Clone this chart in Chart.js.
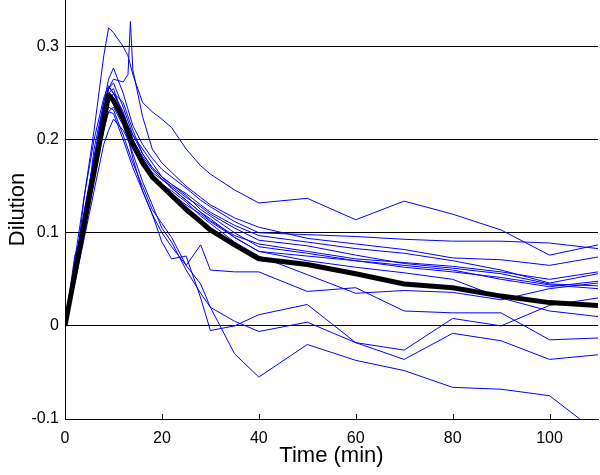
<!DOCTYPE html>
<html>
<head>
<meta charset="utf-8">
<script src="https://cdn.jsdelivr.net/npm/chart.js@4.4.1/dist/chart.umd.min.js"></script>
<style>
  html, body { margin: 0; background: #fff; }
  canvas { display: block; }
</style>
</head>
<body>
<canvas id="chart" width="600" height="475"></canvas>
<script>
const _ = null;

// sample times (min), shared by every curve; null = no sample at that time
const times = [0, 2, 4, 6, 8, 9, 10, 12, 12.5, 13, 13.5, 14, 16, 18, 20, 22, 25, 28, 30, 35, 40, 50, 60, 70, 80, 90, 100, 110];

const xTicks = [0, 20, 40, 60, 80, 100];
const yTicks = [-0.1, 0, 0.1, 0.2, 0.3];

// mean curve (thick black)
const meanCurve = [0, .055, .11, .165, .22, .248, .242, .222, _, _, _, .195, .175, .16, .15, .14, .125, .112, .103, .087, .072, .066, .056, .045, .041, .032, .025, .022];

// individual curves (blue)
const subjA = [0, .05, .14, .21, .29, .32, .315, .30, _, .29, _, .27, .24, .23, .222, .213, .19, .172, .163, .146, .132, .137, .114, .134, .120, .103, .076, .087];
const subjB = [0, .06, .12, .18, .24, .265, .277, .25, _, _, _, .215, .195, .18, .168, .16, .148, .135, .128, .112, .100, .098, .096, .093, .091, .091, .089, .083];
const subjC = [0, .05, .11, .17, .23, .255, .265, .262, _, .27, .327, .275, .225, .19, .175, .165, .15, .138, .13, .116, .106, .094, .088, .082, .073, .071, .065, .074];
const subjD = [0, .05, .115, .175, .235, .255, .261, .235, _, _, _, .205, .185, .17, .16, .152, .142, .13, .122, .108, .097, .090, .083, .078, .070, .060, .046, .056];
const subjE = [0, .075, .105, .19, .24, .256, .25, .23, _, _, _, .2, .18, .165, .157, .15, .138, .128, .12, .105, .092, .086, .076, .067, .062, .056, .045, .043];
const subjF = [0, .065, .125, .18, .235, .25, .245, .225, _, _, _, .205, .19, .175, .16, .152, .14, .125, .118, .1, .085, .078, .070, .063, .058, .052, .044, .040];
const subjG = [0, .055, .11, .17, .22, .24, .25, .24, _, _, _, .21, .185, .17, .16, .148, .135, .122, .115, .095, .080, .070, .063, .057, .050, .030, .016, .010];
const subjH = [0, .06, .12, .175, .22, .235, .232, .205, _, _, _, .175, .15, .125, .11, .095, .065, .087, .06, .058, .058, .037, .041, .016, .014, .014, -.015, -.013];
const subjJ = [0, .07, .14, .2, .245, .258, .25, .228, _, _, _, .2, .18, .163, .152, .145, .133, .118, .11, .09, .075, .055, .035, .038, .036, .028, .040, .046];
const subjK = [0, .06, .12, .18, .23, .245, .24, .22, _, _, _, .2, .182, .168, .158, .148, .135, .122, .113, .097, .088, .080, .072, .068, .064, .058, .050, .058];
const subjM = [0, .045, .095, .145, .195, .21, .222, .21, _, _, _, .19, .175, .162, .15, .142, .13, .12, .112, .095, .080, .075, .070, .065, .060, .050, .042, .048];
const subjN = [0, .06, .12, .18, .23, .25, .255, .225, _, _, _, .18, .145, .12, .09, .072, .075, .03, -.005, .0, .012, .023, -.018, -.036, -.008, -.016, -.036, -.031];
const subjP = [0, .05, .1, .16, .21, .23, .235, .215, _, _, _, .185, .155, .13, .105, .09, .06, .035, .02, .005, -.006, .004, -.018, -.026, .008, .0, .022, .030];
const subjQ = [0, .055, .11, .165, .215, .23, .228, .2, _, _, _, .17, .145, .12, .1, .085, .065, .045, .02, -.03, -.055, -.02, -.037, -.048, -.066, -.068, -.075, -.115];

const subjects = [subjA, subjB, subjC, subjD, subjE, subjF, subjG, subjH, subjJ, subjK, subjM, subjN, subjP, subjQ];

const FONT = "'Liberation Sans', Arial, sans-serif";

function toPoints(vals) {
  return vals.map((v, i) => ({ x: times[i], y: v }));
}

const datasets = [{
  data: toPoints(meanCurve),
  borderColor: "#000000",
  borderWidth: 5,
  order: 0,
}];
subjects.forEach((s) => {
  datasets.push({
    data: toPoints(s),
    borderColor: "#0000ff",
    borderWidth: 1,
    order: 1,
  });
});

// small tick marks pointing into the plot, like the original
const innerTicks = {
  id: "innerTicks",
  afterDatasetsDraw(chart) {
    const { ctx, chartArea, scales } = chart;
    ctx.save();
    ctx.strokeStyle = "#000";
    ctx.lineWidth = 1;
    xTicks.forEach((v) => {
      const px = Math.round(scales.x.getPixelForValue(v)) + 0.5;
      ctx.beginPath();
      ctx.moveTo(px, chartArea.bottom);
      ctx.lineTo(px, chartArea.bottom - 5);
      ctx.stroke();
    });
    ctx.restore();
  },
};

new Chart(document.getElementById("chart"), {
  type: "line",
  data: { datasets },
  options: {
    responsive: false,
    animation: false,
    devicePixelRatio: 1,
    spanGaps: true,
    elements: {
      point: { radius: 0 },
      line: { tension: 0, borderJoinStyle: "round" },
    },
    layout: { padding: { top: 0, right: 2, left: 0, bottom: 0 } },
    plugins: {
      legend: { display: false },
      tooltip: { enabled: false },
    },
    scales: {
      x: {
        type: "linear",
        min: 0,
        max: 110,
        afterBuildTicks: (axis) => {
          axis.ticks = xTicks.map((v) => ({ value: v }));
        },
        afterFit: (axis) => {
          axis.height = 56;
          axis.paddingLeft = 0;
          axis.paddingRight = 0;
        },
        grid: { display: false, drawTicks: false },
        border: { display: true, color: "#000", width: 1 },
        ticks: {
          padding: 10,
          color: "#000",
          font: { family: FONT, size: 16 },
          callback: (v) => String(v),
        },
        title: {
          display: true,
          text: "Time (min)",
          color: "#000",
          font: { family: FONT, size: 22 },
          padding: { top: 0, bottom: 6 },
        },
      },
      y: {
        type: "linear",
        min: -0.1,
        max: 0.35,
        afterBuildTicks: (axis) => {
          axis.ticks = yTicks.map((v) => ({ value: v }));
        },
        afterFit: (axis) => {
          axis.width = 65;
          axis.paddingTop = 0;
          axis.paddingBottom = 0;
        },
        grid: {
          drawTicks: false,
          lineWidth: 1,
          color: (c) => (c.tick && c.tick.value === -0.1 ? "rgba(0,0,0,0)" : "#000"),
        },
        border: { display: true, color: "#000", width: 1 },
        ticks: {
          padding: 6,
          color: "#000",
          font: { family: FONT, size: 16 },
          callback: (v) => String(v),
        },
        title: {
          display: true,
          text: "Dilution",
          color: "#000",
          font: { family: FONT, size: 22 },
          padding: { top: 5, bottom: 0 },
        },
      },
    },
  },
  plugins: [innerTicks],
});
</script>
</body>
</html>
